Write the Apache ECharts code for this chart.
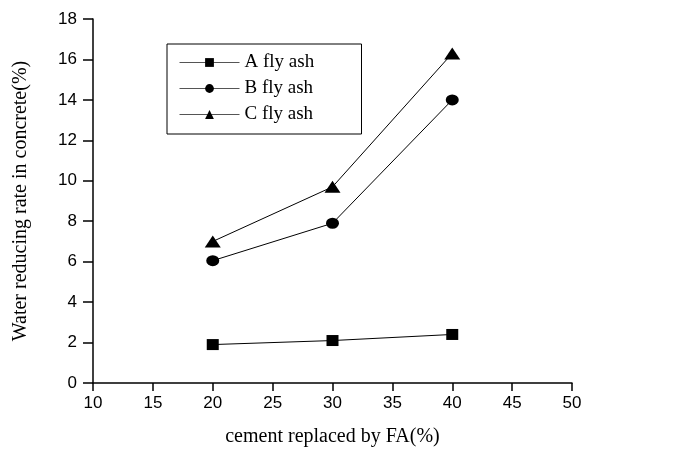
<!DOCTYPE html>
<html><head><meta charset="utf-8">
<script src="https://cdn.jsdelivr.net/npm/echarts@6/dist/echarts.min.js"></script>
<style>html,body{margin:0;padding:0;background:#fff}#c{width:694px;height:458px}</style>
</head><body><div id="c"></div>
<script>
var xValues = [20, 30, 40];
var seriesNames = ['A fly ash', 'B fly ash', 'C fly ash'];
var seriesA = [1.9, 2.1, 2.4];
var seriesB = [6.05, 7.9, 14.0];
var seriesC = [7.0, 9.7, 16.3];
var xTitle = 'cement replaced by FA(%)';
var yTitle = 'Water reducing rate in concrete(%)';

function pairs(ys){ return xValues.map(function(x,i){return [x, ys[i]];}); }

var chart = echarts.init(document.getElementById('c'), null, {renderer:'canvas'});
var serif = '"Liberation Serif","Times New Roman",serif';
var sans = '"Liberation Sans",Arial,sans-serif';
function mk(name, data, sym, size){
  return {
    name: name, type: 'line', data: pairs(data),
    symbol: sym, symbolSize: size,
    itemStyle: {color:'#000'},
    lineStyle: {color:'#000', width:1},
    animation:false
  };
}
chart.setOption({
  animation:false,
  grid:{left:93, right:122, top:19, bottom:75},
  legend:{
    orient:'vertical', left:167, top:44,
    padding:[9,10,10,12], itemGap:7, itemWidth:60, itemHeight:11,
    borderColor:'#000', borderWidth:1,
    lineStyle:{color:'#555', width:1},
    textStyle:{fontFamily:serif, fontSize:19, color:'#000', width:107, lineHeight:19},
    data: seriesNames
  },
  xAxis:{
    type:'value', min:10, max:50, interval:5,
    name:xTitle, nameLocation:'middle', nameGap:44,
    nameTextStyle:{fontFamily:serif, fontSize:20, color:'#000'},
    axisLine:{lineStyle:{color:'#000', width:1.5}},
    axisTick:{length:8, lineStyle:{color:'#000', width:1.5}},
    axisLabel:{fontFamily:sans, fontSize:17, color:'#000', margin:12},
    splitLine:{show:false}
  },
  yAxis:{
    type:'value', min:0, max:18, interval:2,
    name:yTitle, nameLocation:'middle', nameGap:62,
    nameTextStyle:{fontFamily:serif, fontSize:20, color:'#000'},
    axisLine:{onZero:false, lineStyle:{color:'#000', width:1.5}},
    axisTick:{length:10, lineStyle:{color:'#000', width:1.5}},
    axisLabel:{fontFamily:sans, fontSize:17, color:'#000', margin:16},
    splitLine:{show:false}
  },
  series:[
    mk(seriesNames[0], seriesA, 'rect', [12,11]),
    mk(seriesNames[1], seriesB, 'circle', [13,11]),
    mk(seriesNames[2], seriesC, 'triangle', [16,12])
  ]
});
</script></body></html>
